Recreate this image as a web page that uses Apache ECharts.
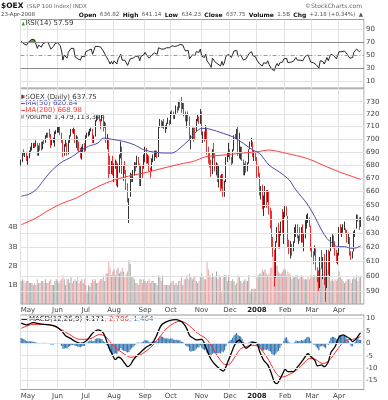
<!DOCTYPE html>
<html><head><meta charset="utf-8">
<script src="https://cdn.jsdelivr.net/npm/echarts@6/dist/echarts.min.js"></script>
<style>html,body{margin:0;padding:0;background:#fff}#c{width:388px;height:400px}</style>
</head><body><div id="c"></div><script>
const monthLabels = ['Apr','May','Jun','Jul','Aug','Sep','Oct','Nov','Dec','2008','Feb','Mar','Apr'];
const monthDays = [5,22,21,21,23,19,23,21,20,21,20,20,17];

const opens = [680,683,689,688,689,
683,685,690,693,694,696,695,697,688,694,693,692,698,698,702,703,703,702,695,699,696,705,
706,707,709,705,699,688,695,695,688,699,702,707,706,707,697,701,693,690,686,692,692,
691,702,704,705,707,707,698,702,715,717,716,715,715,717,709,712,698,701,684,674,681,
672,680,683,665,680,685,694,674,675,674,662,652,656,671,671,672,679,679,686,680,665,679,677,
684,692,685,687,676,675,684,684,689,690,687,710,713,710,712,708,709,712,715,
713,721,720,718,720,725,724,729,729,725,728,721,716,718,717,698,702,708,706,706,715,718,714,
721,704,704,702,708,689,688,679,673,692,687,678,681,669,671,662,672,658,667,686,687,
691,685,682,692,702,702,706,689,691,693,684,674,678,677,681,692,697,697,688,689,
684,675,674,658,660,648,655,661,653,659,643,640,622,617,609,624,630,620,631,635,631,
642,648,642,621,617,621,619,623,628,635,626,628,626,632,624,629,637,641,641,635,
619,617,616,619,601,600,593,612,605,611,595,593,617,602,617,626,627,622,616,610,
614,633,631,633,634,633,631,625,627,616,614,617,630,633,642,641,636.82];
const highs = [684,690,692,690,690,
687,691,694,697,697,697,699,697,695,697,698,698,700,703,705,705,708,704,700,701,706,707,
710,710,710,705,700,696,700,697,699,703,708,708,709,708,703,702,698,693,694,696,697,
703,705,706,708,709,708,703,715,719,718,719,716,720,717,714,713,704,701,687,683,687,
681,684,683,681,688,698,694,680,683,676,666,655,674,673,676,682,682,687,686,681,680,680,688,
694,693,688,687,678,685,688,691,691,691,710,716,715,714,716,711,713,717,715,
722,723,722,720,727,726,730,731,734,729,729,722,720,722,718,703,709,709,709,716,720,718,724,
722,706,706,711,709,694,689,684,692,697,689,682,681,680,672,673,673,668,686,690,697,
692,686,692,703,704,708,710,705,694,694,684,681,683,682,692,698,701,698,691,689,
686,679,674,664,665,657,664,661,661,660,648,646,627,618,624,634,637,631,638,647,645,
650,649,642,625,624,622,624,634,636,636,628,634,634,636,630,639,643,644,641,635,
620,617,621,619,606,604,613,618,613,615,600,618,618,617,627,629,628,624,618,616,
634,636,634,636,638,633,632,630,627,617,617,631,632,643,643,641,641.14];
const lows = [679,682,687,686,683,
680,685,689,691,693,693,694,687,687,691,691,692,696,697,701,701,701,693,695,697,694,704,
705,705,703,697,686,687,694,687,688,697,702,705,704,697,693,691,689,685,684,690,689,
691,701,702,703,706,697,697,702,714,715,714,708,714,706,709,697,692,669,673,673,672,
667,677,664,663,674,685,673,668,673,661,652,637,656,667,667,672,675,678,680,664,664,670,677,
682,681,681,675,669,675,682,683,686,685,686,709,709,709,708,705,708,712,711,
712,719,716,716,720,721,723,725,721,724,718,714,709,714,699,692,700,698,700,706,714,712,712,
703,697,698,700,688,681,678,671,673,685,675,672,667,663,660,662,656,656,667,682,686,
684,679,681,691,700,700,687,685,684,683,672,672,674,675,681,692,694,686,683,683,
670,671,657,654,647,642,648,648,652,643,633,620,613,593,599,623,619,619,628,630,622,
641,642,620,615,612,614,617,623,627,626,622,624,623,623,617,626,633,637,634,617,
613,608,614,604,596,590,592,605,598,594,583,592,601,600,617,620,619,614,609,608,
614,629,627,630,632,629,623,622,614,611,612,617,627,633,638,632,634.23];
const closes = [682.5,689.4,688.9,688.8,683.4,
685.2,689.6,692.6,694.1,695.9,695.1,697.3,687.6,694.2,693.0,692.1,698.0,697.4,702.0,703.1,702.6,701.8,695.0,698.7,699.8,705.4,705.6,
708.2,709.6,705.7,699.5,687.2,695.1,695.7,688.3,698.7,702.1,706.7,705.8,707.0,697.4,701.7,692.7,690.4,686.0,692.0,692.0,691.0,
702.0,704.5,704.7,707.0,707.7,697.7,701.7,715.0,717.3,715.9,715.8,714.4,717.5,708.8,712.2,698.1,701.4,685.0,674.0,680.9,672.4,
680.1,683.1,665.0,681.0,685.2,694.8,674.2,674.5,674.1,661.9,652.7,654.8,670.9,670.8,671.5,679.3,678.6,686.4,680.6,664.6,679.2,676.3,683.9,
692.6,684.6,687.5,675.9,675.0,684.2,684.3,690.0,690.2,686.6,709.7,714.0,709.3,712.5,708.8,708.5,712.4,715.2,713.0,
720.9,720.7,717.5,719.0,725.8,723.5,729.4,728.1,724.4,727.8,721.7,716.9,718.2,717.7,699.3,701.9,708.1,706.4,705.7,715.4,718.1,713.4,722.0,
704.4,705.0,701.5,710.0,689.1,688.7,678.9,672.1,691.7,686.8,677.7,681.2,669.3,672.3,661.6,672.8,657.2,667.0,686.0,686.4,691.7,
686.1,681.7,692.0,702.4,701.2,706.4,688.6,692.8,693.6,684.1,673.8,678.0,677.1,680.4,691.8,697.3,697.9,688.0,689.0,684.3,
674.4,674.4,657.8,660.0,647.8,656.6,661.9,652.9,660.0,643.5,639.9,621.3,617.5,610.7,623.8,630.1,620.1,630.9,634.8,631.8,642.4,
648.9,642.1,621.5,616.8,621.7,619.0,622.7,627.2,635.7,627.2,627.7,627.2,632.4,624.3,629.2,637.9,642.3,641.7,636.0,618.7,
617.7,615.6,618.8,605.2,600.1,590.9,612.8,607.3,610.4,597.7,592.3,617.4,602.5,616.9,626.4,627.8,622.3,615.2,610.3,613.7,
633.0,631.8,632.6,633.1,634.1,630.9,625.8,628.6,615.8,613.7,616.5,630.5,630.9,642.3,641.3,635.57,637.75];
const volumeB = [1.2,1.3,1.2,1.1,1.2,
1.2,1.1,1.1,1.1,1.0,1.1,1.0,1.3,1.1,1.1,1.2,1.2,1.1,1.3,1.1,1.1,1.2,1.3,1.0,1.0,1.2,1.3,
1.2,1.1,1.2,1.3,1.5,1.3,1.0,1.3,1.3,1.1,1.4,1.1,1.2,1.3,1.2,1.4,1.1,1.2,1.3,1.1,1.3,
1.0,0.6,1.0,0.9,1.1,1.3,1.2,1.3,1.1,1.1,1.2,1.3,1.3,1.5,1.2,1.6,1.6,2.2,1.9,1.5,1.7,
1.8,1.5,1.8,1.9,1.6,1.7,1.9,1.7,1.4,1.6,1.7,2.3,2.1,1.4,1.4,1.3,1.1,1.1,1.0,1.3,1.3,1.1,1.3,
1.2,1.1,1.2,1.3,1.1,1.2,1.2,1.1,1.1,1.0,1.5,1.4,1.2,1.5,1.0,1.0,1.0,1.0,1.0,
1.1,1.2,1.2,1.0,1.1,1.0,1.2,1.2,1.4,1.0,1.3,1.3,1.5,1.3,1.6,1.4,1.3,1.4,1.4,1.2,1.1,1.2,1.4,
1.6,1.4,1.3,1.3,2.2,1.8,1.5,1.4,1.6,1.4,1.4,1.7,1.3,1.5,1.4,0.6,1.4,1.5,1.5,1.2,1.5,
1.2,1.2,1.3,1.2,1.0,1.1,1.5,1.4,1.2,1.1,1.2,1.3,1.2,1.2,1.5,0.6,0.8,0.8,0.8,0.8,
1.4,1.5,1.6,1.6,1.8,1.7,1.8,1.6,1.5,1.6,1.9,1.9,2.4,2.4,2.0,2.0,1.7,1.6,1.6,1.7,1.8,
1.8,1.5,1.7,1.6,1.5,1.3,1.4,1.4,1.5,1.5,1.3,1.4,1.5,1.4,1.3,1.3,1.3,1.4,1.3,1.5,
1.4,1.5,1.5,1.4,1.6,1.6,1.9,1.5,1.6,1.9,2.2,1.8,1.7,1.5,1.2,1.3,1.2,1.3,1.2,1.3,
1.7,1.4,1.3,1.2,1.1,1.2,1.3,1.3,1.3,1.1,1.3,1.4,1.3,1.5,1.2,1.4,1.48];
const rsi = [72,72,68,69,66,
68,72,74,75,75,74,75,61,66,64,63,68,67,70,71,70,69,60,63,64,68,68,
70,71,65,57,43,51,51,46,55,58,61,60,61,48,50,45,44,43,49,49,48,
56,58,58,60,60,52,55,64,66,64,64,63,65,57,59,49,52,42,37,41,37,
42,44,37,45,47,52,43,43,43,39,35,37,45,45,46,49,49,52,49,42,49,48,51,
55,51,52,46,46,51,51,54,54,52,62,63,60,62,60,60,62,63,62,
65,65,63,64,67,65,68,67,64,66,61,57,58,58,45,47,51,50,50,56,58,55,60,
49,49,47,52,42,42,36,32,46,44,40,42,37,39,34,41,35,40,49,49,52,
49,47,52,57,56,58,49,51,51,47,43,45,45,47,53,55,56,50,51,48,
43,43,37,38,34,39,42,38,42,36,34,29,28,27,34,38,34,39,41,40,45,
48,46,39,37,40,39,41,43,47,43,43,43,46,42,45,49,51,51,48,40,
40,39,41,36,34,31,42,40,41,37,35,47,42,48,52,52,50,47,45,47,
56,55,56,56,57,55,52,54,46,45,47,55,55,60,59,56,57.59];
const macdHist = [2.1,1.9,1.6,1.3,0.9,0.8,0.8,0.8,0.7,0.6,
0.4,0.4,0.0,0.1,0.1,0.0,0.2,0.1,0.2,0.1,
0.0,-0.1,-0.5,-0.5,-0.5,-0.1,0.0,0.1,0.1,-0.4,
-1.1,-2.2,-2.1,-1.9,-2.1,-1.5,-1.2,-0.8,-0.7,-0.6,
-1.1,-1.0,-1.4,-1.5,-1.6,-1.3,-1.1,-1.0,-0.2,0.3,
0.7,1.0,1.2,0.8,0.9,1.6,1.9,2.0,1.9,1.7,
1.6,0.8,0.5,-0.6,-0.9,-2.1,-3.3,-3.8,-4.3,-4.2,
-4.0,-4.3,-3.3,-2.8,-1.9,-2.7,-3.0,-3.1,-3.4,-3.7,
-3.5,-2.6,-2.0,-1.5,-0.9,-0.5,0.2,0.3,-0.3,0.3,
0.4,0.8,1.3,1.1,1.1,0.5,0.3,0.6,0.7,0.9,
0.9,0.6,2.0,2.8,2.7,2.6,2.2,1.9,1.9,1.9,
1.6,2.0,1.9,1.5,1.3,1.5,1.2,1.3,1.1,0.6,
0.5,-0.1,-0.8,-1.2,-1.4,-3.0,-3.4,-3.1,-3.0,-2.9,
-2.2,-1.7,-1.6,-0.9,-1.8,-2.3,-2.8,-2.5,-3.8,-4.3,
-4.9,-5.2,-4.2,-4.0,-4.1,-3.9,-4.1,-3.9,-4.1,-3.3,
-3.6,-2.8,-1.2,-0.3,0.6,1.1,1.4,2.2,3.1,3.6,
4.1,3.2,3.0,2.7,1.8,0.6,0.1,-0.3,-0.3,0.3,
0.6,0.9,0.6,0.5,0.2,-0.6,-1.1,-2.0,-2.3,-3.0,
-2.9,-2.5,-2.7,-2.4,-3.0,-3.3,-4.2,-4.6,-5.0,-4.2,
-3.4,-3.1,-1.9,-0.9,-0.3,1.0,2.2,2.4,1.1,0.3,
0.2,0.0,0.1,0.4,1.1,0.9,0.8,0.9,1.3,1.0,
1.2,1.8,2.4,2.6,2.3,0.8,0.0,-0.5,-0.6,-1.4,
-2.0,-2.8,-1.3,-1.2,-1.0,-1.6,-2.0,-0.3,-0.6,0.8,
2.2,2.6,2.5,2.1,1.6,1.6,3.2,3.3,3.1,3.1,
3.0,2.2,1.3,1.0,-0.4,-1.2,-1.2,0.1,0.6,1.6,
1.9,1.4,1.464];
const macdLine = [[0,8.1],[4,7.4],[9,8.3],[14,7.8],[21,7.4],[26,6.7],[30,5.0],[33,3.0],[36,2.2],[40,0.8],[44,0.0],[48,0.8],[53,4.0],[57,5.4],[60,4.7],[62,3.0],[65,-1.5],[67,-3.8],[70,-6.5],[72,-5.6],[74,-6.0],[77,-8.1],[79,-9.4],[81,-8.7],[83,-6.9],[86,-4.9],[88,-4.0],[90,-2.9],[93,-1.5],[97,-0.2],[100,2.5],[103,6.3],[105,7.8],[110,9.1],[115,9.5],[119,8.7],[121,7.6],[123,5.8],[125,3.2],[128,2.0],[130,1.4],[134,1.6],[137,-1.5],[140,-5.5],[143,-8.0],[146,-9.6],[150,-11.2],[152,-9.4],[154,-6.6],[156,-4.0],[158,-1.2],[160,0.6],[162,1.3],[165,-0.7],[167,-2.0],[170,-0.8],[172,0.5],[175,0.0],[177,-3.2],[180,-6.8],[183,-8.6],[186,-12.5],[188,-15.6],[190,-16.2],[192,-14.5],[194,-12.4],[196,-10.5],[198,-11.4],[202,-11.4],[205,-9.6],[209,-6.9],[213,-4.2],[215,-5.3],[218,-6.9],[220,-9.1],[223,-8.7],[225,-9.4],[228,-7.4],[230,-3.6],[233,-1.4],[236,2.5],[239,3.4],[241,2.8],[244,1.9],[246,0.7],[249,2.0],[251,3.6],[252,4.171]];
const signalLine = [[0,6.0],[9,7.6],[21,7.4],[28,6.0],[32,4.8],[36,3.5],[43,1.6],[51,1.8],[58,3.5],[62,3.0],[66,0.6],[70,-1.8],[73,-3.0],[77,-4.5],[81,-5.6],[85,-5.4],[88,-4.8],[92,-3.4],[95,-2.2],[99,0.0],[103,2.6],[107,5.4],[111,7.3],[115,8.5],[118,8.9],[121,8.5],[125,7.0],[129,4.9],[133,3.3],[137,2.0],[140,0.0],[144,-3.6],[148,-6.9],[151,-8.5],[154,-8.6],[157,-6.8],[160,-4.3],[163,-2.2],[167,-1.3],[171,-0.8],[175,-1.0],[178,-2.3],[181,-4.5],[184,-7.0],[187,-10.0],[190,-12.6],[193,-13.6],[196,-13.3],[199,-12.5],[202,-11.7],[206,-10.0],[210,-7.9],[214,-6.1],[218,-6.3],[221,-7.4],[224,-8.1],[227,-7.6],[230,-6.1],[233,-3.8],[236,-1.6],[239,0.3],[242,1.4],[246,1.6],[249,2.0],[252,2.706]];
const ma50 = [[0,656.4],[6,658.0],[11,661.2],[16,667.5],[21,673.8],[26,678.8],[31,682.7],[36,685.2],[40,687.8],[45,691.6],[50,694.3],[57,696.9],[61,700.8],[69,699.5],[76,698.2],[84,695.5],[91,691.6],[98,689.9],[106,689.1],[112,689.1],[118,693.0],[124,698.7],[130,705.8],[134,708.5],[140,707.9],[150,704.5],[157,701.8],[165,696.6],[172,691.4],[177,688.8],[184,679.8],[192,674.3],[199,668.5],[204,661.0],[212,651.2],[218,641.4],[223,631.9],[227,626.0],[231,622.5],[235,620.2],[240,620.2],[246,619.0],[249,619.5],[252,620.84]];
const ma200 = [[0,635.7],[11,640.5],[21,646.5],[31,651.4],[41,655.1],[50,660.0],[63,666.2],[76,670.5],[91,673.8],[106,677.6],[118,680.6],[128,682.7],[137,686.2],[150,687.5],[162,688.8],[175,690.1],[184,691.4],[197,688.8],[212,685.0],[224,679.8],[236,674.7],[252,668.98]];
const priceTicks = [590,600,610,620,630,640,650,660,670,680,690,700,710,720,730,740];
const volumeTicksB = [1,2,3,4];
const rsiTicks = [10,30,50,70,90];
const macdTicks = [-15,-10,-5,0,5,10];

// categories
const cats = [], monthStart = new Set(), labelAt = {};
monthLabels.forEach((m, k) => {
  for (let d = 0; d < monthDays[k]; d++) {
    if (d === 0) { monthStart.add(cats.length); labelAt[cats.length] = m; }
    cats.push(m + '|' + k + '|' + d);
  }
});
cats.push('pad1', 'pad2');

const FONT = '"DejaVu Sans", sans-serif';
const GRID_C = '#e2e2e2';

function xAxisFor(gi, showLabels) {
  return {
    type: 'category', gridIndex: gi, data: cats, boundaryGap: true,
    axisLine: { show: false }, axisTick: { show: false },
    axisLabel: {
      show: showLabels, margin: 3, fontSize: 7, fontFamily: FONT, color: '#444',
      interval: (i) => monthStart.has(i) && i > 0,
      formatter: (v, i) => { const t = labelAt[i] || ''; return t === '2008' ? '{y|2008}' : t; },
      rich: { y: { fontWeight: 'bold', fontSize: 7, fontFamily: FONT, color: '#222' } }
    },
    splitLine: { show: true, interval: (i) => monthStart.has(i), lineStyle: { color: GRID_C, width: 1 } }
  };
}

function tickLines(ticks, fmt, styleFn) {
  return {
    symbol: 'none', silent: true, animation: false,
    data: ticks.map(t => ({
      yAxis: t,
      lineStyle: styleFn(t),
      label: { show: fmt(t) !== '', position: 'end', distance: 2, formatter: fmt(t), color: '#444', fontSize: 7, fontFamily: FONT }
    }))
  };
}

const nulls = closes.map(() => '-');
const candleData = closes.map((c, i) => [opens[i], c, lows[i], highs[i]]);
const volData = volumeB.map((v, i) => ({
  value: v,
  itemStyle: { color: (i > 0 && closes[i] < closes[i - 1]) ? '#eba7a7' : '#a9a9a9' }
}));

const option = {
  animation: false,
  backgroundColor: '#fff',
  grid: [
    { left: 20.5, width: 343.5, top: 19.5, height: 68.7, show: true, borderColor: '#999', borderWidth: 1, backgroundColor: '#fff' },
    { left: 20.5, width: 343.5, top: 88.2, height: 215.8, show: true, borderColor: '#999', borderWidth: 1, backgroundColor: '#fff' },
    { left: 20.5, width: 343.5, top: 315, height: 74.5, show: true, borderColor: '#999', borderWidth: 1, backgroundColor: '#fff' }
  ],
  xAxis: [xAxisFor(0, false), xAxisFor(1, true), xAxisFor(2, true)],
  yAxis: [
    { type: 'value', gridIndex: 0, min: 0, max: 105.3, axisLabel: { show: false }, axisLine: { show: false }, axisTick: { show: false }, splitLine: { show: false } },
    { type: 'log', logBase: 10, gridIndex: 1, min: 581.5, max: 741.2, axisLabel: { show: false }, axisLine: { show: false }, axisTick: { show: false }, splitLine: { show: false } },
    { type: 'value', gridIndex: 1, position: 'left', min: 0, max: 11.3, interval: 1,
      axisLabel: { show: true, margin: 3, fontSize: 7, fontFamily: FONT, color: '#444', formatter: v => volumeTicksB.includes(Math.round(v)) && Math.abs(v - Math.round(v)) < 1e-6 ? Math.round(v) + 'B' : '' },
      axisLine: { show: false }, axisTick: { show: false }, splitLine: { show: false } },
    { type: 'value', gridIndex: 2, min: -18.57, max: 11.37, axisLabel: { show: false }, axisLine: { show: false }, axisTick: { show: false }, splitLine: { show: false } }
  ],
  visualMap: [{
    show: false, type: 'piecewise', seriesIndex: 1, dimension: 1,
    pieces: [{ min: 70, max: 120, color: '#5f9e3e' }, { min: -20, max: 70, color: 'rgba(255,255,255,0)' }]
  }],
  series: [
    // 0 RSI grid lines
    { type: 'line', xAxisIndex: 0, yAxisIndex: 0, data: nulls, symbol: 'none', silent: true, z: 1,
      markLine: tickLines(rsiTicks, t => String(t), t => (t === 70 || t === 30) ? { color: '#8a8a8a', width: 1, type: 'solid' } : (t === 50 ? { color: '#999', width: 1, type: [4, 2, 1, 2] } : { color: GRID_C, width: 1, type: 'solid' })) },
    // 1 RSI overbought area
    { type: 'line', xAxisIndex: 0, yAxisIndex: 0, data: rsi, symbol: 'none', silent: true, z: 2,
      lineStyle: { width: 0, opacity: 0 }, areaStyle: { origin: 'start', opacity: 1 } },
    // 2 RSI line
    { type: 'line', xAxisIndex: 0, yAxisIndex: 0, data: rsi, symbol: 'none', silent: true, z: 3,
      lineStyle: { color: '#111', width: 0.9 } },
    // 3 price grid lines
    { type: 'line', xAxisIndex: 1, yAxisIndex: 1, data: nulls, symbol: 'none', silent: true, z: 1,
      markLine: tickLines(priceTicks, t => t === 740 ? '' : String(t), () => ({ color: GRID_C, width: 1, type: 'solid' })) },
    // 4 volume
    { type: 'bar', xAxisIndex: 1, yAxisIndex: 2, data: volData, barWidth: 1, silent: true, z: 2 },
    // 5 candles
    { type: 'candlestick', xAxisIndex: 1, yAxisIndex: 1, data: candleData, barWidth: 1, silent: true, z: 4,
      itemStyle: { color: '#000', color0: '#e00000', borderColor: '#000', borderColor0: '#e00000', borderWidth: 0.8 } },
    // 6 MA50
    { type: 'line', xAxisIndex: 1, yAxisIndex: 1, data: ma50, symbol: 'none', smooth: 0.3, silent: true, z: 5,
      lineStyle: { color: '#4b4ba6', width: 1 } },
    // 7 MA200
    { type: 'line', xAxisIndex: 1, yAxisIndex: 1, data: ma200, symbol: 'none', smooth: 0.3, silent: true, z: 5,
      lineStyle: { color: '#ff3b3b', width: 1 } },
    // 8 MACD grid lines
    { type: 'line', xAxisIndex: 2, yAxisIndex: 3, data: nulls, symbol: 'none', silent: true, z: 1,
      markLine: tickLines(macdTicks, t => String(t), () => ({ color: GRID_C, width: 1, type: 'solid' })) },
    // 9 MACD histogram
    { type: 'bar', xAxisIndex: 2, yAxisIndex: 3, data: macdHist, barCategoryGap: '8%', silent: true, z: 2,
      itemStyle: { color: '#3b7ab5' } },
    // 10 signal
    { type: 'line', xAxisIndex: 2, yAxisIndex: 3, data: signalLine, symbol: 'none', smooth: 0.3, silent: true, z: 3,
      lineStyle: { color: '#ff2a2a', width: 1 } },
    // 11 MACD
    { type: 'line', xAxisIndex: 2, yAxisIndex: 3, data: macdLine, symbol: 'none', smooth: 0.3, silent: true, z: 4,
      lineStyle: { color: '#000', width: 1.3 } }
  ],
  graphic: [
    { type: 'text', silent: true, style: { x: 1, y: 6.5, textVerticalAlign: 'middle', text: '{t|$OEX} {s|(S&P 100 Index) INDX}',
      rich: { t: { fontWeight: 'bold', fontSize: 7.5, fontFamily: FONT, fill: '#111' }, s: { fontSize: 5.5, fontFamily: FONT, fill: '#666' } } } },
    { type: 'text', silent: true, style: { x: 362, y: 6.5, textAlign: 'right', textVerticalAlign: 'middle', text: '©StockCharts.com', fontSize: 6, fontFamily: FONT, fill: '#666' } },
    { type: 'text', silent: true, style: { x: 1, y: 15, textVerticalAlign: 'middle', text: '23-Apr-2008', fontSize: 5.5, fontFamily: FONT, fill: '#444' } },
    { type: 'text', silent: true, style: { x: 363, y: 15, textAlign: 'right', textVerticalAlign: 'middle',
      text: '{b|Open} {v|636.82} {b|High} {v|641.14} {b|Low} {v|634.23} {b|Close} {v|637.75} {b|Volume} {v|1.5B} {b|Chg} {v|+2.18 (+0.34%)} {v|▲}',
      rich: { b: { fontWeight: 'bold', fontSize: 6, fontFamily: FONT, fill: '#111' }, v: { fontSize: 5.6, fontFamily: FONT, fill: '#555' } } } },
    // RSI legend
    { type: 'polygon', silent: true, shape: { points: [[21.5, 25.5], [23.2, 21.5], [24.9, 25.5]] }, style: { fill: '#4f8f3a' } },
    { type: 'text', silent: true, style: { x: 25.5, y: 23.6, textVerticalAlign: 'middle', text: 'RSI(14) 57.59', fontSize: 7, fontFamily: FONT, fill: '#333' } },
    // price legend
    { type: 'rect', silent: true, shape: { x: 21.5, y: 94.7, width: 1.2, height: 4 }, style: { fill: '#000' } },
    { type: 'rect', silent: true, shape: { x: 23.2, y: 95.2, width: 1.2, height: 3 }, style: { fill: '#e00000' } },
    { type: 'text', silent: true, style: { x: 25.5, y: 96.8, textVerticalAlign: 'middle', text: '$OEX (Daily) 637.75', fontSize: 7, fontFamily: FONT, fill: '#333' } },
    { type: 'line', silent: true, shape: { x1: 20.8, y1: 103.6, x2: 25, y2: 103.6 }, style: { stroke: '#4b4ba6', lineWidth: 1 } },
    { type: 'text', silent: true, style: { x: 25.5, y: 103.6, textVerticalAlign: 'middle', text: 'MA(50) 620.84', fontSize: 7, fontFamily: FONT, fill: '#4b4ba6' } },
    { type: 'line', silent: true, shape: { x1: 20.8, y1: 110.4, x2: 25, y2: 110.4 }, style: { stroke: '#ff3b3b', lineWidth: 1 } },
    { type: 'text', silent: true, style: { x: 25.5, y: 110.4, textVerticalAlign: 'middle', text: 'MA(200) 668.98', fontSize: 7, fontFamily: FONT, fill: '#ff3b3b' } },
    { type: 'rect', silent: true, shape: { x: 21.3, y: 115.5, width: 1, height: 3 }, style: { fill: '#888' } },
    { type: 'rect', silent: true, shape: { x: 22.7, y: 114.5, width: 1, height: 4 }, style: { fill: '#888' } },
    { type: 'text', silent: true, style: { x: 25.5, y: 117.2, textVerticalAlign: 'middle', text: 'Volume 1,479,113,344', fontSize: 7, fontFamily: FONT, fill: '#333' } },
    // MACD legend
    { type: 'line', silent: true, shape: { x1: 21.5, y1: 319.2, x2: 27, y2: 319.2 }, style: { stroke: '#000', lineWidth: 1.3 } },
    { type: 'text', silent: true, style: { x: 29, y: 319.2, textVerticalAlign: 'middle',
      text: '{k|MACD(12,26,9) 4.171}{r|, 2.706}{u|, 1.464}',
      rich: { k: { fontSize: 7, fontFamily: FONT, fill: '#222' }, r: { fontSize: 7, fontFamily: FONT, fill: '#ff2a2a' }, u: { fontSize: 7, fontFamily: FONT, fill: '#3b7ab5' } } } }
  ]
};

const chart = echarts.init(document.getElementById('c'), null, { renderer: 'canvas', width: 388, height: 400 });
chart.setOption(option);
</script></body></html>
